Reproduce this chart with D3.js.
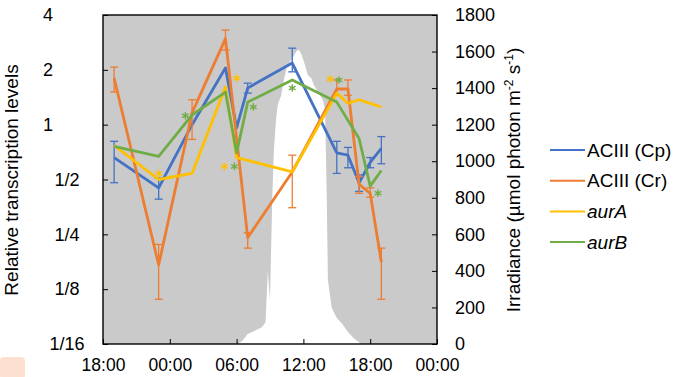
<!DOCTYPE html>
<html>
<head>
<meta charset="utf-8">
<script src="https://cdn.jsdelivr.net/npm/d3@7"></script>
<style>
  body { margin: 0; background: #fff; }
  text { font-family: "Liberation Sans", Arial, sans-serif; }
</style>
</head>
<body>
<svg id="chart" width="680" height="377"></svg>
<script>
// sampling times, hours after 18:00 of day 1
const sampleHours = [1, 5, 8, 11, 12, 13, 17, 21, 22, 23, 24, 25];

// relative transcription levels (null = no sample)
const cpValues = [0.66, 0.45, 1.0, 2.05, 0.96, 1.59, 2.18, 0.70, 0.68, 0.48, 0.62, 0.74];
const cpLow    = [0.48, 0.39, null, null, null, 1.49, 1.95, 0.54, 0.58, 0.43, 0.58, 0.61];
const cpHigh   = [0.81, 0.51, null, null, null, 1.69, 2.63, 0.81, 0.75, 0.53, 0.66, 0.86];

const crValues = [1.80, 0.17, 1.16, 2.97, null, 0.24, 0.55, 1.57, 1.57, 0.47, 0.42, 0.176];
const crLow    = [1.51, 0.11, 0.83, 2.57, null, 0.21, 0.35, 1.45, 1.45, 0.42, 0.40, 0.11];
const crHigh   = [2.07, 0.22, 1.37, 3.31, null, 0.255, 0.68, 1.76, 1.76, 0.52, 0.45, 0.21];

const aurAValues = [0.77, 0.50, 0.54, 1.61, 0.66, null, 0.55, 1.49, 1.31, 1.37, 1.31, 1.25];
const aurBValues = [0.76, 0.67, 1.13, 1.51, 0.70, 1.33, 1.76, 1.33, null, 0.84, 0.46, 0.56];

// significance marks (*)
const aurAStarHours  = [5.0, 10.9, 12.0, 20.4];
const aurAStarValues = [0.54, 0.59, 1.80, 1.78];
const aurBStarHours  = [7.4, 11.8, 13.5, 17.0, 21.2, 24.7];
const aurBStarValues = [1.12, 0.59, 1.25, 1.59, 1.76, 0.42];

// irradiance (umol photon m-2 s-1), hours after 18:00
const irrHours  = [12.1, 12.5, 13.0, 13.6, 14.3, 14.6, 14.8, 15.0, 15.2, 15.35, 15.55, 15.7, 16.0, 16.25, 16.5, 16.8, 17.05, 17.35, 17.6, 17.85, 18.15, 18.4, 18.7, 18.95, 19.2, 19.5, 19.75, 19.95, 20.1, 20.2, 20.55, 21.0, 21.5, 22.0, 22.6, 23.2];
const irrValues = [0, 16, 55, 71, 93, 120, 400, 240, 790, 1060, 1235, 1310, 1360, 1445, 1515, 1545, 1565, 1600, 1610, 1580, 1525, 1470, 1455, 1415, 1390, 1360, 1335, 1280, 790, 350, 197, 142, 109, 66, 27, 0];

// axes
const timeTicks = [0, 6, 12, 18, 24, 30];
const timeLabels = ["18:00", "00:00", "06:00", "12:00", "18:00", "00:00"];
const levelTicks = [4, 2, 1, 1/2, 1/4, 1/8, 1/16];
const levelLabels = ["4", "2", "1", "1/2", "1/4", "1/8", "1/16"];
const irrTicks = [0, 200, 400, 600, 800, 1000, 1200, 1400, 1600, 1800];

const seriesNames = ["ACIII (Cp)", "ACIII (Cr)", "aurA", "aurB"];
const seriesColors = ["#4472c4", "#ed7d31", "#ffc000", "#70ad47"];

let width = 680, height = 377,
  margin = {top: 15, right: 243, bottom: 33, left: 103};
let w = width - margin.left - margin.right,
  h = height - margin.top - margin.bottom;

const svg = d3.select("#chart");

// little tab in the corner
svg.append("rect")
  .attr("x", 0).attr("y", 357).attr("width", 25).attr("height", 22)
  .attr("rx", 4).attr("fill", "#fde0cf");

const g = svg.append("g")
  .attr("transform", `translate(${margin.left},${margin.top})`);

const x = d3.scaleLinear().domain([0, 30]).range([0, w]);
const y = d3.scaleLog().base(2).domain([1/16, 4]).range([h, 0]);
const yIrr = d3.scaleLinear().domain([0, 1800]).range([h, 0]);

// background
g.append("rect")
  .attr("width", w).attr("height", h)
  .attr("fill", "#cacaca");

// irradiance area
const irrData = irrHours.map((t, i) => [t, irrValues[i]]);
g.append("path")
  .datum(irrData)
  .attr("fill", "#ffffff")
  .attr("d", d3.area()
    .x(d => x(d[0]))
    .y0(yIrr(0))
    .y1(d => yIrr(d[1])));

// series
const series = [
  {name: seriesNames[0], values: cpValues, lo: cpLow, hi: cpHigh, color: seriesColors[0]},
  {name: seriesNames[1], values: crValues, lo: crLow, hi: crHigh, color: seriesColors[1]},
  {name: seriesNames[2], values: aurAValues, color: seriesColors[2]},
  {name: seriesNames[3], values: aurBValues, color: seriesColors[3]}
];

const line = d3.line()
  .x(d => x(d.t))
  .y(d => y(d.v));

series.forEach(s => {
  const pts = sampleHours.map((t, i) => ({
    t: t, v: s.values[i],
    lo: s.lo ? s.lo[i] : null,
    hi: s.hi ? s.hi[i] : null
  })).filter(d => d.v != null);

  g.append("path")
    .datum(pts)
    .attr("fill", "none")
    .attr("stroke", s.color)
    .attr("stroke-width", 2.8)
    .attr("stroke-linejoin", "round")
    .attr("d", line);

  const bars = g.append("g")
    .attr("stroke", s.color)
    .attr("stroke-width", 1.3)
    .selectAll("g")
    .data(pts.filter(d => d.lo != null))
    .join("g");

  bars.append("line")
    .attr("x1", d => x(d.t)).attr("x2", d => x(d.t))
    .attr("y1", d => y(d.lo)).attr("y2", d => y(d.hi));
  bars.append("line")
    .attr("x1", d => x(d.t) - 4).attr("x2", d => x(d.t) + 4)
    .attr("y1", d => y(d.lo)).attr("y2", d => y(d.lo));
  bars.append("line")
    .attr("x1", d => x(d.t) - 4).attr("x2", d => x(d.t) + 4)
    .attr("y1", d => y(d.hi)).attr("y2", d => y(d.hi));
});

// asterisks
const star = d3.symbol().type(d3.symbolAsterisk).size(40);
[[aurAStarHours, aurAStarValues, seriesColors[2]],
 [aurBStarHours, aurBStarValues, seriesColors[3]]].forEach(([hs, vs, c]) => {
  g.append("g")
    .selectAll("path")
    .data(hs.map((t, i) => [t, vs[i]]))
    .join("path")
    .attr("transform", d => `translate(${x(d[0])},${y(d[1])})`)
    .attr("d", star)
    .attr("fill", "none")
    .attr("stroke", c)
    .attr("stroke-width", 1.4);
});

// frame
g.append("rect")
  .attr("width", w).attr("height", h)
  .attr("fill", "none")
  .attr("stroke", "#000")
  .attr("stroke-width", 1.4);

// left axis
g.append("g")
  .call(d3.axisLeft(y).tickValues(levelTicks)
    .tickFormat((d, i) => levelLabels[i])
    .tickSize(-5).tickSizeOuter(0))
  .call(a => a.select(".domain").remove())
  .attr("font-size", 18)
  .attr("font-family", null)
  .selectAll("text")
  .attr("fill", "#000")
  .attr("text-anchor", "middle")
  .attr("x", (d, i) => levelLabels[i].includes("/") ? -36 : -55);

// right axis
g.append("g")
  .attr("transform", `translate(${w},0)`)
  .call(d3.axisRight(yIrr).tickValues(irrTicks)
    .tickFormat(d3.format("d"))
    .tickSize(-5).tickSizeOuter(0))
  .call(a => a.select(".domain").remove())
  .attr("font-size", 18)
  .attr("font-family", null)
  .selectAll("text")
  .attr("fill", "#000")
  .attr("x", 18);

// bottom axis
g.append("g")
  .attr("transform", `translate(0,${h})`)
  .call(d3.axisBottom(x).tickValues(timeTicks)
    .tickFormat((d, i) => timeLabels[i])
    .tickSize(-5).tickSizeOuter(0))
  .call(a => a.select(".domain").remove())
  .attr("font-size", 17.5)
  .attr("font-family", null)
  .selectAll("text")
  .attr("fill", "#000")
  .attr("y", 15);

// axis titles
svg.append("text")
  .attr("transform", "translate(18,180) rotate(-90)")
  .attr("text-anchor", "middle")
  .attr("font-size", 19)
  .text("Relative transcription levels");

const rt = svg.append("text")
  .attr("transform", "translate(520,180) rotate(-90)")
  .attr("text-anchor", "middle")
  .attr("font-size", 19);
rt.append("tspan").text("Irradiance (µmol photon m");
rt.append("tspan").attr("font-size", 12).attr("dy", -7).text("-2");
rt.append("tspan").attr("dy", 7).text(" s");
rt.append("tspan").attr("font-size", 12).attr("dy", -7).text("-1");
rt.append("tspan").attr("dy", 7).text(")");

// legend
let legendBase = svg.append("g")
  .attr("transform", "translate(550,150)");

const rows = legendBase.selectAll("g")
  .data(series)
  .join("g")
  .attr("transform", (d, i) => `translate(0,${i * 30.7})`);

rows.append("line")
  .attr("x1", 0).attr("x2", 35)
  .attr("stroke", d => d.color)
  .attr("stroke-width", 2);

rows.append("text")
  .attr("x", 37)
  .attr("dy", "0.35em")
  .attr("font-size", 19)
  .attr("font-style", d => d.name.startsWith("aur") ? "italic" : null)
  .text(d => d.name);
</script>
</body>
</html>
